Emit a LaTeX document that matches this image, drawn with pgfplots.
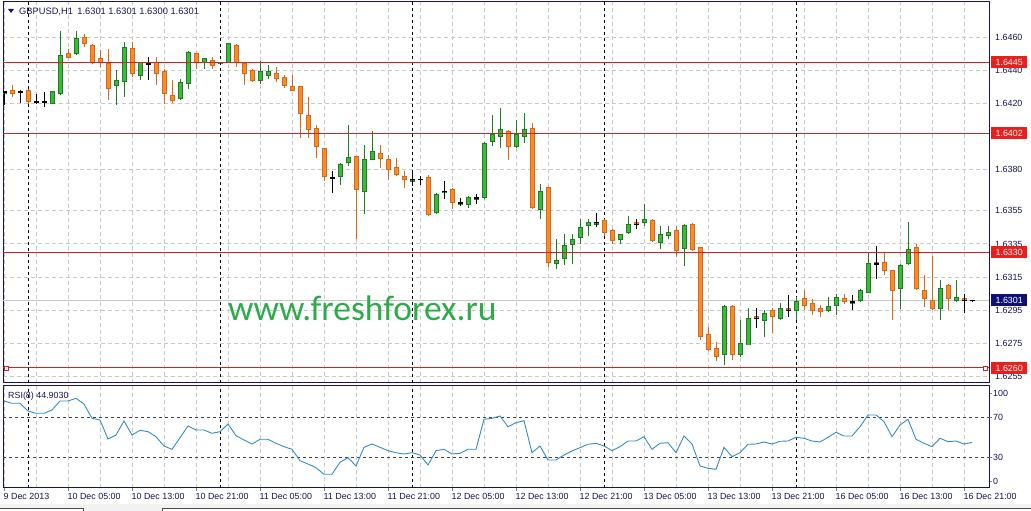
\documentclass[border=0pt]{standalone}
\usepackage{pgfplots}
\pgfplotsset{compat=1.18}
\usepackage{pgfplotstable}
\usepackage{fontspec}
\setmainfont{Liberation Sans}
\newfontfamily\wmfont{Carlito}
\definecolor{navy}{RGB}{20,20,90}
\definecolor{gridgray}{RGB}{200,200,200}
\definecolor{bullfill}{RGB}{60,185,60}
\definecolor{bulledge}{RGB}{30,125,30}
\definecolor{bearfill}{RGB}{250,140,35}
\definecolor{bearedge}{RGB}{215,105,25}
\definecolor{lvlred}{RGB}{205,35,35}
\definecolor{lblred}{RGB}{235,30,30}
\definecolor{lblblue}{RGB}{15,15,120}
\definecolor{rsiblue}{RGB}{50,140,200}
\definecolor{wmgreen}{RGB}{45,170,75}
\newcommand\lblfont{\fontsize{8.9}{10}\selectfont}

\pgfplotstableread{
i O H L C
0 1.6426 1.6427 1.6419 1.6427
1 1.6428 1.6431 1.6424 1.6426
2 1.6427 1.6428 1.6420 1.6427
3 1.6428 1.6429 1.6420 1.6421
4 1.6421 1.6426 1.6420 1.6421
5 1.6421 1.6427 1.6418 1.6421
6 1.6420 1.6427 1.6420 1.6427
7 1.6426 1.6464 1.6425 1.6449
8 1.6450 1.6453 1.6448 1.6448
9 1.6450 1.6464 1.6449 1.6459
10 1.6460 1.6462 1.6454 1.6456
11 1.6455 1.6456 1.6444 1.6445
12 1.6447 1.6452 1.6442 1.6445
13 1.6444 1.6453 1.6422 1.6429
14 1.6431 1.6440 1.6419 1.6434
15 1.6433 1.6457 1.6424 1.6454
16 1.6453 1.6457 1.6436 1.6438
17 1.6437 1.6445 1.6434 1.6445
18 1.6444 1.6448 1.6434 1.6444
19 1.6445 1.6448 1.6431 1.6438
20 1.6439 1.6441 1.6420 1.6426
21 1.6425 1.6434 1.6420 1.6422
22 1.6423 1.6435 1.6422 1.6433
23 1.6432 1.6452 1.6429 1.6451
24 1.6450 1.6450 1.6441 1.6445
25 1.6445 1.6447 1.6441 1.6447
26 1.6446 1.6448 1.6441 1.6443
27 1.6444 1.6445 1.6443 1.6445
28 1.6445 1.6456 1.6445 1.6456
29 1.6455 1.6456 1.6442 1.6445
30 1.6444 1.6444 1.6431 1.6438
31 1.6440 1.6441 1.6433 1.6434
32 1.6434 1.6446 1.6432 1.6439
33 1.6437 1.6443 1.6435 1.6439
34 1.6438 1.6442 1.6433 1.6435
35 1.6436 1.6437 1.6429 1.6431
36 1.6430 1.6437 1.6428 1.6428
37 1.6430 1.6430 1.6399 1.6414
38 1.6413 1.6424 1.6399 1.6404
39 1.6405 1.6407 1.6387 1.6394
40 1.6393 1.6393 1.6373 1.6376
41 1.6375 1.6379 1.6366 1.6375
42 1.6376 1.6384 1.6371 1.6383
43 1.6384 1.6407 1.6382 1.6387
44 1.6388 1.6388 1.6338 1.6368
45 1.6367 1.6395 1.6353 1.6386
46 1.6386 1.6403 1.6386 1.6391
47 1.6390 1.6395 1.6381 1.6387
48 1.6386 1.6389 1.6374 1.6380
49 1.6381 1.6387 1.6376 1.6377
50 1.6376 1.6379 1.6369 1.6374
51 1.6373 1.6379 1.6370 1.6374
52 1.6374 1.6376 1.6371 1.6374
53 1.6375 1.6377 1.6352 1.6353
54 1.6354 1.6366 1.6353 1.6365
55 1.6366 1.6373 1.6362 1.6367
56 1.6368 1.6369 1.6356 1.6360
57 1.6359 1.6363 1.6358 1.6360
58 1.6359 1.6364 1.6357 1.6363
59 1.6362 1.6365 1.6359 1.6363
60 1.6363 1.6397 1.6362 1.6396
61 1.6397 1.6413 1.6394 1.6401
62 1.6400 1.6417 1.6393 1.6404
63 1.6403 1.6404 1.6386 1.6394
64 1.6394 1.6410 1.6393 1.6401
65 1.6400 1.6414 1.6396 1.6404
66 1.6405 1.6408 1.6356 1.6357
67 1.6356 1.6371 1.6350 1.6367
68 1.6369 1.6369 1.6321 1.6324
69 1.6323 1.6338 1.6320 1.6325
70 1.6326 1.6341 1.6322 1.6334
71 1.6335 1.6341 1.6323 1.6338
72 1.6339 1.6350 1.6335 1.6345
73 1.6346 1.6350 1.6340 1.6348
74 1.6347 1.6354 1.6345 1.6348
75 1.6349 1.6350 1.6340 1.6342
76 1.6343 1.6344 1.6335 1.6337
77 1.6338 1.6341 1.6335 1.6341
78 1.6342 1.6352 1.6341 1.6347
79 1.6348 1.6350 1.6344 1.6347
80 1.6348 1.6359 1.6346 1.6350
81 1.6349 1.6350 1.6336 1.6337
82 1.6336 1.6346 1.6332 1.6341
83 1.6340 1.6346 1.6338 1.6342
84 1.6343 1.6346 1.6327 1.6331
85 1.6332 1.6347 1.6322 1.6346
86 1.6347 1.6348 1.6331 1.6332
87 1.6333 1.6333 1.6277 1.6279
88 1.6280 1.6285 1.6270 1.6271
89 1.6272 1.6276 1.6264 1.6267
90 1.6268 1.6298 1.6262 1.6297
91 1.6297 1.6298 1.6265 1.6268
92 1.6268 1.6289 1.6267 1.6275
93 1.6274 1.6296 1.6274 1.6290
94 1.6291 1.6296 1.6284 1.6290
95 1.6289 1.6295 1.6279 1.6293
96 1.6295 1.6296 1.6281 1.6291
97 1.6290 1.6299 1.6289 1.6296
98 1.6296 1.6304 1.6291 1.6295
99 1.6295 1.6303 1.6289 1.6300
100 1.6302 1.6307 1.6295 1.6298
101 1.6299 1.6302 1.6292 1.6295
102 1.6296 1.6298 1.6291 1.6294
103 1.6295 1.6303 1.6294 1.6297
104 1.6298 1.6305 1.6292 1.6303
105 1.6302 1.6305 1.6299 1.6300
106 1.6299 1.6304 1.6295 1.6300
107 1.6301 1.6308 1.6300 1.6307
108 1.6306 1.6330 1.6306 1.6323
109 1.6324 1.6334 1.6314 1.6323
110 1.6324 1.6330 1.6316 1.6319
111 1.6319 1.6319 1.6289 1.6307
112 1.6308 1.6323 1.6296 1.6322
113 1.6323 1.6348 1.6322 1.6332
114 1.6333 1.6335 1.6307 1.6308
115 1.6307 1.6316 1.6297 1.6302
116 1.6301 1.6328 1.6295 1.6296
117 1.6296 1.6313 1.6289 1.6308
118 1.6310 1.6311 1.6295 1.6302
119 1.6301 1.6313 1.6300 1.6303
120 1.6302 1.6305 1.6293 1.6301
121 1.6301 1.6301 1.6300 1.6301
}\ohlc

\pgfplotstableread{
i r
0 86.3
1 84
2 84
3 76.3
4 74
5 74
6 77.3
7 86.3
8 86.3
9 89
10 83.3
11 69
12 67.3
13 48.3
14 52.3
15 66.3
16 52.3
17 57
18 55.6
19 50.6
20 41.3
21 38
22 49.6
23 61.3
24 57.3
25 57.3
26 54
27 55.6
28 63.3
29 51.6
30 47.3
31 43.3
32 48
33 48
34 44
35 40.6
36 38
37 26.6
38 23.3
39 19.6
40 13
41 13
42 25
43 29.6
44 21.3
45 40
46 43.3
47 40
48 36.6
49 34.6
50 33.3
51 34.6
52 32.3
53 22.3
54 36.6
55 38
56 33.3
57 34
58 38
59 38
60 68
61 69
62 71.3
63 60.6
64 64.6
65 66.6
66 34.6
67 41.3
68 27.3
69 27.3
70 32.3
71 36.3
72 39.6
73 43
74 44
75 41.3
76 36.6
77 40.6
78 46.3
79 46.3
80 50.6
81 38
82 44
83 44.6
84 34.6
85 51.3
86 43.3
87 21.3
88 19
89 18
90 40
91 30.6
92 34.6
93 43
94 43.3
95 45.3
96 43.3
97 46
98 46.3
99 50
100 49
101 46.3
102 45.3
103 50
104 55
105 51.3
106 51.3
107 60.6
108 72.3
109 72.3
110 65.6
111 50.6
112 62.3
113 68
114 48
115 44
116 40.6
117 49
118 45.6
119 46.3
120 43.3
121 44.9
}\rsi

\pgfplotsset{
  errbar/.style 2 args={draw=none, mark=none, forget plot,
    error bars/y dir=both, error bars/y explicit, error bars/error mark=none,
    error bars/error bar style={draw=#1, line width=#2, solid}},
  commonx/.style={
    scale only axis, width=986pt,
    xmin=-0.125, xmax=123.125,
    axis line style={draw=navy, line width=1pt},
    xtick={0,8,...,120}, minor xtick={4,12,...,116},
    xmajorgrids=true, xminorgrids=true,
    grid style={draw=gridgray, line width=1pt, dash pattern=on 4pt off 3pt},
    extra x ticks={3,27,51,75,99}, extra x tick labels={},
    extra x tick style={xmajorgrids=true, major tick length=0pt,
      major grid style={draw=black, line width=1pt, dash pattern=on 3pt off 3pt}},
    tick label style={font=\lblfont, color=navy},
    clip mode=individual,
  },
}

\begin{document}
\begin{tikzpicture}[x=1pt,y=1pt]
\path[use as bounding box] (0,0) rectangle (1031,511);
\fill[gray!10] (0,0) rectangle (1031,7);
\fill[white] (0,0) rectangle (83,2);
\fill[white] (162,0) rectangle (1031,2);
\draw[black!70, line width=1pt] (0,2.5)--(83,2.5)--(83,0);
\draw[black!70, line width=1pt] (162,0)--(162,2.5)--(1031,2.5);

% ---------- price panel ----------
\begin{axis}[commonx,
  at={(3pt,128pt)}, anchor=south west, height=381pt,
  ymin=1.625093, ymax=1.648128,
  xticklabels={}, major tick length=0pt, minor tick length=0pt,
  ytick={1.6255,1.6275,1.6295,1.6315,1.6335,1.6355,1.638,1.642,1.644,1.646},
  yticklabels={1.6255,1.6275,1.6295,1.6315,1.6335,1.6355,1.6380,1.6420,1.6440,1.6460},
  ymajorgrids=true, ytick pos=right, yticklabel pos=right,
  yticklabel style={anchor=west, inner sep=0pt, xshift=6pt},
]
% bid line
\addplot[forget plot, draw=gray!45, line width=1pt] coordinates {(-0.125,1.6301) (123.125,1.6301)};
% bullish candles
\addplot[errbar={bulledge}{1pt}] table[x expr={\thisrow{C}>\thisrow{O} ? \thisrow{i} : nan}, y expr={(\thisrow{H}+\thisrow{L})/2}, y error expr={(\thisrow{H}-\thisrow{L})/2}] {\ohlc};
\addplot[errbar={bulledge}{5pt}] table[x expr={\thisrow{C}>\thisrow{O} ? \thisrow{i} : nan}, y expr={(\thisrow{O}+\thisrow{C})/2}, y error expr={abs(\thisrow{C}-\thisrow{O})/2+0.00003}] {\ohlc};
\addplot[errbar={bullfill}{3pt}] table[x expr={\thisrow{C}>\thisrow{O} ? \thisrow{i} : nan}, y expr={(\thisrow{O}+\thisrow{C})/2}, y error expr={max(abs(\thisrow{C}-\thisrow{O})/2-0.00003,0)}] {\ohlc};
% bearish candles
\addplot[errbar={bearedge}{1pt}] table[x expr={\thisrow{C}<\thisrow{O} ? \thisrow{i} : nan}, y expr={(\thisrow{H}+\thisrow{L})/2}, y error expr={(\thisrow{H}-\thisrow{L})/2}] {\ohlc};
\addplot[errbar={bearedge}{5pt}] table[x expr={\thisrow{C}<\thisrow{O} ? \thisrow{i} : nan}, y expr={(\thisrow{O}+\thisrow{C})/2}, y error expr={abs(\thisrow{C}-\thisrow{O})/2+0.00003}] {\ohlc};
\addplot[errbar={bearfill}{3pt}] table[x expr={\thisrow{C}<\thisrow{O} ? \thisrow{i} : nan}, y expr={(\thisrow{O}+\thisrow{C})/2}, y error expr={max(abs(\thisrow{C}-\thisrow{O})/2-0.00003,0)}] {\ohlc};
% doji candles
\addplot[errbar={black}{1pt}] table[x expr={\thisrow{C}==\thisrow{O} ? \thisrow{i} : nan}, y expr={(\thisrow{H}+\thisrow{L})/2}, y error expr={(\thisrow{H}-\thisrow{L})/2}] {\ohlc};
\addplot[errbar={black}{5pt}] table[x expr={\thisrow{C}==\thisrow{O} ? \thisrow{i} : nan}, y expr={\thisrow{C}}, y error expr={0.00003}] {\ohlc};
% level lines
\addplot[forget plot, draw=lvlred, line width=1pt] coordinates {(-0.125,1.6445) (123.125,1.6445)};
\addplot[forget plot, draw=lvlred, line width=1pt] coordinates {(-0.125,1.6402) (123.125,1.6402)};
\addplot[forget plot, draw=lvlred, line width=1pt] coordinates {(-0.125,1.6330) (123.125,1.6330)};
\addplot[forget plot, draw=lvlred, line width=1pt] coordinates {(-0.125,1.6260) (123.125,1.6260)};
\addplot[forget plot, only marks, mark=square*, mark size=2pt, mark options={fill=white, draw=lvlred, line width=0.8pt}] coordinates {(0.3,1.6260) (122.7,1.6260)};
\coordinate (L1) at (axis cs:123.125,1.6445);
\coordinate (L2) at (axis cs:123.125,1.6402);
\coordinate (L3) at (axis cs:123.125,1.6330);
\coordinate (L4) at (axis cs:123.125,1.6260);
\coordinate (LB) at (axis cs:123.125,1.6301);
\end{axis}

% ---------- RSI panel ----------
\begin{axis}[commonx,
  at={(3pt,23pt)}, anchor=south west, height=102pt,
  ymin=-0.7, ymax=101.3,
  xticklabels={9 Dec 2013,10 Dec 05:00,10 Dec 13:00,10 Dec 21:00,11 Dec 05:00,11 Dec 13:00,11 Dec 21:00,12 Dec 05:00,12 Dec 13:00,12 Dec 21:00,13 Dec 05:00,13 Dec 13:00,13 Dec 21:00,16 Dec 05:00,16 Dec 13:00,16 Dec 21:00},
  xtick pos=left, tick align=outside, major tick length=3pt, minor tick length=0pt,
  xticklabel style={anchor=north west, inner sep=0pt, xshift=-0.5pt, yshift=-2pt},
  ytick={6.3,30,70,94}, yticklabels={0,30,70,100},
  ytick pos=right, yticklabel pos=right,
  yticklabel style={anchor=west, inner sep=0pt, xshift=1pt},
  extra y ticks={30,70}, extra y tick labels={},
  extra y tick style={ymajorgrids=true,
    major grid style={draw=black!75, line width=1pt, dash pattern=on 3pt off 3pt}},
]
\addplot[rsiblue, line width=0.9pt, mark=none] table[x=i, y=r] {\rsi};
\end{axis}

% ---------- labels ----------
\node[fill=lblred, text=white, font=\lblfont, anchor=west, minimum width=36pt, minimum height=12pt, inner sep=0pt, xshift=2pt] at (L1) {1.6445};
\node[fill=lblred, text=white, font=\lblfont, anchor=west, minimum width=36pt, minimum height=12pt, inner sep=0pt, xshift=2pt] at (L2) {1.6402};
\node[fill=lblred, text=white, font=\lblfont, anchor=west, minimum width=36pt, minimum height=12pt, inner sep=0pt, xshift=2pt] at (L3) {1.6330};
\node[fill=lblred, text=white, font=\lblfont, anchor=west, minimum width=36pt, minimum height=12pt, inner sep=0pt, xshift=2pt] at (L4) {1.6260};
\node[fill=lblblue, text=white, font=\lblfont, anchor=west, minimum width=36pt, minimum height=12pt, inner sep=0pt, xshift=2pt] at (LB) {1.6301};

\fill[navy] (8,502) -- (14,502) -- (11,498) -- cycle;
\node[anchor=west, inner sep=0pt, font=\fontsize{9.3}{10}\selectfont, text=navy] at (19,499.5) {GBPUSD,H1\hspace{4.5pt}1.6301 1.6301 1.6300 1.6301};
\node[anchor=west, inner sep=0pt, font=\lblfont, text=navy] at (8,115) {RSI(8) 44.9030};
\node[anchor=base west, inner sep=0pt, text=wmgreen, font=\wmfont\fontsize{35.5}{36}\selectfont] at (228,190) {www.freshforex.ru};
\end{tikzpicture}
\end{document}
